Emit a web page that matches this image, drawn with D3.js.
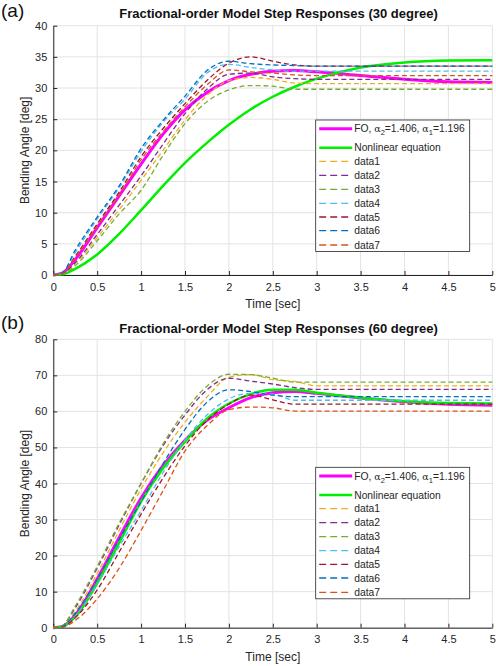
<!DOCTYPE html>
<html>
<head>
<meta charset="utf-8">
<script src="https://cdn.jsdelivr.net/npm/d3@7"></script>
<style>
  body { margin: 0; background: #fff; }
  svg { font-family: "Liberation Sans", Arial, sans-serif; }
  .grid line { stroke: #e3e3e3; stroke-width: 1; }
  .axis path, .axis line { stroke: #262626; }
  .axis text { fill: #262626; font-size: 11px; }
</style>
</head>
<body>
<svg id="chart" width="496" height="666"></svg>
<script>
// time samples (sec)
const timeSec = [0, 0.1, 0.25, 0.5, 0.75, 1, 1.25, 1.5, 1.75, 2, 2.25, 2.5, 2.75, 3, 3.5, 4, 4.5, 5];

const xTicks = [0, 0.5, 1, 1.5, 2, 2.5, 3, 3.5, 4, 4.5, 5];
const xTickLabels = ["0", "0.5", "1", "1.5", "2", "2.5", "3", "3.5", "4", "4.5", "5"];
const yTicksA = [0, 5, 10, 15, 20, 25, 30, 35, 40];
const yTicksB = [0, 10, 20, 30, 40, 50, 60, 70, 80];

const seriesNames = ["FO", "Nonlinear equation", "data1", "data2", "data3", "data4", "data5", "data6", "data7"];
const seriesColors = ["#ff00ff", "#00ee00", "#EDB120", "#7E2F8E", "#77AC30", "#4DBEEE", "#A2142F", "#0072BD", "#D95319"];

// (a) 30 degree
const foA   = [0, 0.3, 2.5, 7.6, 12.7, 17.8, 22.6, 26.5, 29.3, 31.2, 32.2, 32.7, 32.8, 32.6, 32.0, 31.4, 31.0, 30.9];
const nlA   = [0, 0.1, 1.0, 3.3, 6.6, 10.4, 14.3, 18.0, 21.2, 24.1, 26.6, 28.6, 30.2, 31.5, 33.3, 34.1, 34.4, 34.45];
const data1A = [0, 0.2, 1.8, 6.0, 10.5, 15.2, 20.0, 24.9, 28.8, 31.2, 31.7, 31.4, 30.8, 30.7, 30.7, 30.7, 30.7, 30.7];
const data2A = [0, 0.2, 2.0, 6.5, 11.2, 15.9, 21.0, 25.9, 29.8, 32.2, 32.4, 31.8, 31.5, 31.4, 31.4, 31.4, 31.4, 31.4];
const data3A = [0, 0.1, 1.5, 5.5, 9.8, 13.6, 19.2, 24.3, 27.8, 29.7, 30.4, 30.3, 29.8, 29.8, 29.8, 29.8, 29.8, 29.8];
const data4A = [0, 0.3, 3.6, 9.0, 14.0, 19.8, 24.5, 28.2, 32.4, 33.8, 33.3, 32.9, 32.7, 32.7, 32.7, 32.7, 32.7, 32.7];
const data5A = [0, 0.2, 3.0, 8.2, 13.3, 19.0, 23.5, 27.5, 31.2, 34.0, 35.0, 34.3, 33.7, 33.5, 33.5, 33.5, 33.5, 33.5];
const data6A = [0, 0.3, 4.0, 9.3, 14.3, 20.3, 24.8, 28.7, 32.8, 34.3, 33.9, 33.7, 33.6, 33.5, 33.5, 33.5, 33.5, 33.5];
const data7A = [0, 0.2, 2.8, 7.8, 12.8, 18.5, 23.0, 27.0, 30.5, 32.9, 32.6, 32.4, 32.1, 32.0, 32.0, 32.0, 32.0, 32.0];

// (b) 60 degree
const foB   = [0, 0.3, 3.5, 13.5, 25, 36, 45, 52, 57.5, 61, 63.8, 65.2, 65.5, 65.0, 63.7, 62.7, 62.0, 61.7];
const nlB   = [0, 0.3, 3.0, 12.3, 23.5, 35, 44.2, 51.6, 58, 62.2, 64.8, 66.0, 66.0, 65.2, 63.8, 62.8, 62.3, 62.2];
const data1B = [0, 0.3, 4.5, 15, 27, 38.5, 48.5, 57, 64, 69.5, 70.2, 68.8, 68.3, 67.1, 67.1, 67.1, 67.1, 67.1];
const data2B = [0, 0.5, 5.5, 16.5, 28.5, 40, 50.5, 59, 66, 69.2, 68.4, 67.6, 66.6, 66.1, 66.1, 66.1, 66.1, 66.1];
const data3B = [0, 0.5, 6.0, 17, 29, 40, 51, 60, 67, 70.3, 70.2, 69.2, 68.1, 68.1, 68.1, 68.1, 68.1, 68.1];
const data4B = [0, 0.3, 3.2, 12, 22.5, 32.5, 43, 52, 59, 63.5, 65, 64.8, 63.1, 63.1, 63.1, 63.1, 63.1, 63.1];
const data5B = [0, 0.2, 2.8, 10.5, 21, 31.5, 41.5, 50.5, 57.5, 62, 64.5, 63.2, 62.0, 62.0, 62.0, 62.0, 62.0, 62.0];
const data6B = [0, 0.3, 4, 13.5, 24.5, 35, 45.5, 55, 62.5, 66, 65.5, 64.5, 64.1, 64.1, 64.1, 64.1, 64.1, 64.1];
const data7B = [0, 0.1, 2, 8, 16.5, 27, 38, 49, 56, 60.5, 61.2, 61, 60.1, 60.1, 60.1, 60.1, 60.1, 60.1];

const svg = d3.select("#chart");

/**
 * Draw one panel (axes, grid, lines, legend)
 */
function drawPanel(p) {
    const xScale = d3.scaleLinear().domain([0, 5]).range([p.left, p.right]);
    const yScale = d3.scaleLinear().domain([0, p.yMax]).range([p.bottom, p.top]);

    // grid
    const grid = svg.append("g").attr("class", "grid");
    grid.selectAll(".gx").data(xTicks).enter().append("line")
        .attr("x1", d => xScale(d)).attr("x2", d => xScale(d))
        .attr("y1", p.top).attr("y2", p.bottom);
    grid.selectAll(".gy").data(p.yTicks).enter().append("line")
        .attr("x1", p.left).attr("x2", p.right)
        .attr("y1", d => yScale(d)).attr("y2", d => yScale(d));

    // axes, ticks pointing inward like MATLAB
    svg.append("g")
        .attr("class", "axis")
        .attr("transform", `translate(0, ${p.bottom})`)
        .call(d3.axisBottom(xScale).tickValues(xTicks)
            .tickFormat((d, i) => xTickLabels[i]).tickSizeInner(-4).tickSizeOuter(0).tickPadding(8));
    svg.append("g")
        .attr("class", "axis")
        .attr("transform", `translate(${p.left}, 0)`)
        .call(d3.axisLeft(yScale).tickValues(p.yTicks)
            .tickSizeInner(-4).tickSizeOuter(0).tickPadding(6));

    // axis labels and title
    svg.append("text")
        .attr("x", (p.left + p.right) / 2).attr("y", p.bottom + 33)
        .attr("text-anchor", "middle").attr("font-size", "12px").attr("fill", "#262626")
        .text("Time [sec]");
    svg.append("text")
        .attr("transform", `translate(29, ${(p.top + p.bottom) / 2}) rotate(-90)`)
        .attr("text-anchor", "middle").attr("font-size", "12px").attr("fill", "#262626")
        .text("Bending Angle [deg]");
    svg.append("text")
        .attr("x", 278.5).attr("y", p.titleY)
        .attr("text-anchor", "middle").attr("font-size", "13px").attr("font-weight", "bold")
        .attr("fill", "#111")
        .text(p.title);
    svg.append("text")
        .attr("x", 1).attr("y", p.tagY)
        .attr("font-size", "19px").attr("fill", "#111")
        .text(p.tag);

    // lines
    const line = d3.line()
        .x((d, i) => xScale(timeSec[i]))
        .y(d => yScale(d))
        .curve(d3.curveMonotoneX);

    p.series.forEach((vals, k) => {
        svg.append("path")
            .datum(vals)
            .attr("fill", "none")
            .attr("stroke", seriesColors[k])
            .attr("stroke-width", k === 0 ? 3 : (k === 1 ? 2.5 : 1.3))
            .attr("stroke-dasharray", k > 1 ? "5,3" : null)
            .attr("d", line);
    });

    // legend
    const lg = svg.append("g").attr("transform", `translate(${p.legendX}, ${p.legendY})`);
    lg.append("rect")
        .attr("width", 154).attr("height", 131.5)
        .attr("fill", "#fff").attr("stroke", "#262626").attr("stroke-width", 0.8);
    const rowY = [8.7, 27.7, 41.3, 55.3, 69.3, 83.3, 97, 110.7, 125];
    seriesNames.forEach((name, k) => {
        const y = rowY[k];
        lg.append("line")
            .attr("x1", 3.5).attr("x2", 36.5).attr("y1", y).attr("y2", y)
            .attr("stroke", seriesColors[k])
            .attr("stroke-width", k === 0 ? 3 : (k === 1 ? 2.5 : 1.3))
            .attr("stroke-dasharray", k > 1 ? "7,4" : null);
        const t = lg.append("text")
            .attr("x", 38.5).attr("y", y + 3.6)
            .attr("font-size", "10.3px").attr("fill", "#262626");
        if (k === 0) {
            t.append("tspan").text("FO, ");
            t.append("tspan").attr("font-family", "DejaVu Serif").attr("font-size", "9.5px").text("α");
            t.append("tspan").attr("font-size", "7.5px").attr("dy", 3).text("2");
            t.append("tspan").attr("dy", -3).text("=1.406, ");
            t.append("tspan").attr("font-family", "DejaVu Serif").attr("font-size", "9.5px").text("α");
            t.append("tspan").attr("font-size", "7.5px").attr("dy", 3).text("1");
            t.append("tspan").attr("dy", -3).text("=1.196");
        } else {
            t.text(name);
        }
    });
}

drawPanel({
    left: 53.3, right: 492.3, top: 25.7, bottom: 275, yMax: 40, yTicks: yTicksA,
    title: "Fractional-order Model Step Responses (30 degree)", titleY: 17.5,
    tag: "(a)", tagY: 17,
    legendX: 315.7, legendY: 120,
    series: [foA, nlA, data1A, data2A, data3A, data4A, data5A, data6A, data7A]
});

drawPanel({
    left: 53.3, right: 492.3, top: 339.3, bottom: 627.7, yMax: 80, yTicks: yTicksB,
    title: "Fractional-order Model Step Responses (60 degree)", titleY: 333,
    tag: "(b)", tagY: 329,
    legendX: 315.7, legendY: 467.3,
    series: [foB, nlB, data1B, data2B, data3B, data4B, data5B, data6B, data7B]
});
</script>
</body>
</html>
